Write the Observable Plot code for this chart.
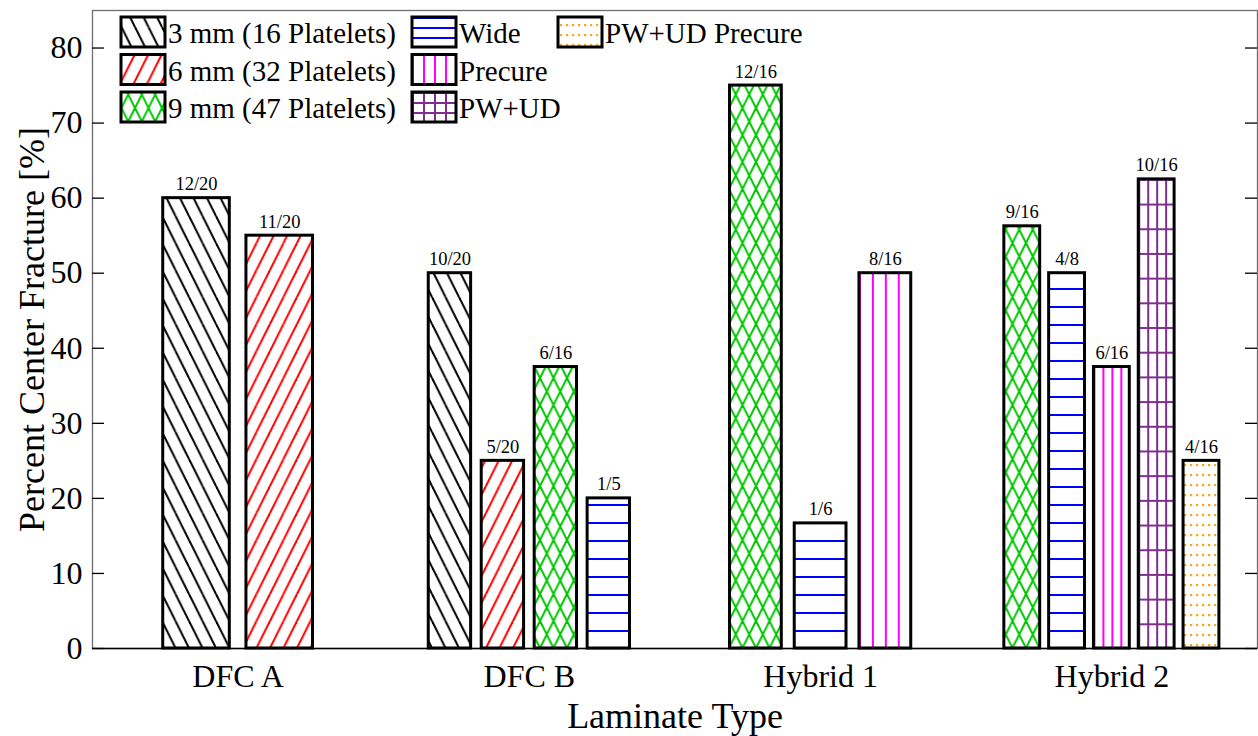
<!DOCTYPE html>
<html>
<head>
<meta charset="utf-8">
<script src="https://cdn.jsdelivr.net/npm/d3@7"></script>
<script src="https://cdn.jsdelivr.net/npm/@observablehq/plot@0.6"></script>
<style>
  body { margin: 0; background: #fff; }
</style>
</head>
<body>
<div id="chart"></div>
<script>
// Laminate types along the x axis
const groups = ["DFC A", "DFC B", "Hybrid 1", "Hybrid 2"];

// Specimen series (legend order)
const seriesNames = [
  "3 mm (16 Platelets)",
  "6 mm (32 Platelets)",
  "9 mm (47 Platelets)",
  "Wide",
  "Precure",
  "PW+UD",
  "PW+UD Precure"
];

// One entry per bar: laminate, series, specimens with a center fracture, specimens tested
const barGroup  = ["DFC A", "DFC A",
                   "DFC B", "DFC B", "DFC B", "DFC B",
                   "Hybrid 1", "Hybrid 1", "Hybrid 1",
                   "Hybrid 2", "Hybrid 2", "Hybrid 2", "Hybrid 2", "Hybrid 2"];
const barSeries = ["3 mm (16 Platelets)", "6 mm (32 Platelets)",
                   "3 mm (16 Platelets)", "6 mm (32 Platelets)", "9 mm (47 Platelets)", "Wide",
                   "9 mm (47 Platelets)", "Wide", "Precure",
                   "9 mm (47 Platelets)", "Wide", "Precure", "PW+UD", "PW+UD Precure"];
const fractured = [12, 11, 10, 5, 6, 1, 12, 1, 8, 9, 4, 6, 10, 4];
const tested    = [20, 20, 20, 20, 16, 5, 16, 6, 16, 16, 8, 16, 16, 16];

const yTicks = [0, 10, 20, 30, 40, 50, 60, 70, 80];

// Fill pattern for each series
const patternIds = ["pat-3mm", "pat-6mm", "pat-9mm", "pat-wide", "pat-precure", "pat-pwud", "pat-pwud-precure"];
const legendPatternIds = ["pat-3mm", "pat-6mm", "pat-9mm", "pat-wide-key", "pat-precure", "pat-pwud-key", "pat-pwud-precure"];
const patternOf = name => patternIds[seriesNames.indexOf(name)];

// Bar table with grouped-bar placement (group width grows with bar count)
const bars = barGroup.map((g, i) => ({
  group: g,
  series: barSeries[i],
  num: fractured[i],
  den: tested[i],
  value: fractured[i] / tested[i] * 100
}));
groups.forEach((g, gi) => {
  const members = bars.filter(b => b.group === g);
  const n = members.length;
  const groupWidth = Math.min(0.8, n / (n + 1.5));
  const pitch = groupWidth / n;
  members.forEach((b, k) => {
    const c = gi + 1 + (k - (n - 1) / 2) * pitch;
    b.xm = c;
    b.x1 = c - 0.4 * pitch;
    b.x2 = c + 0.4 * pitch;
  });
});

const W = 1258, H = 736;
const mL = 92, mR = 1, mT = 10, mB = 88;
const plotW = W - mL - mR;
const tickLen = 12;
const serif = "'Liberation Serif', 'Times New Roman', Times, serif";

const chart = Plot.plot({
  width: W,
  height: H,
  marginLeft: mL,
  marginRight: mR,
  marginTop: mT,
  marginBottom: mB,
  style: { fontFamily: serif, background: "#fff", color: "#000" },
  x: { domain: [0.5, 4.5] },
  y: { domain: [0, 85] },
  color: { type: "identity" },
  marks: [
    Plot.frame({ stroke: "#6e6e6e", strokeWidth: 1.3 }),
    Plot.rect(bars, {
      x1: "x1", x2: "x2", y1: 0, y2: "value",
      fill: d => `url(#${patternOf(d.series)})`,
      stroke: "#000", strokeWidth: 3
    }),
    Plot.ruleY([0], { stroke: "#000", strokeWidth: 1.3 }),
    Plot.tickY(yTicks, { y: d => d, insetRight: plotW - tickLen, stroke: "#000", strokeWidth: 1.3 }),
    Plot.tickY(yTicks, { y: d => d, insetLeft: plotW - tickLen, stroke: "#000", strokeWidth: 1.3 }),
    Plot.axisY({ ticks: yTicks, tickSize: 0, tickPadding: 10, fontSize: 32, label: null }),
    Plot.axisX({ ticks: [1, 2, 3, 4], tickFormat: i => groups[i - 1], tickSize: 0, tickPadding: 16, fontSize: 32, label: null }),
    Plot.text(bars, {
      x: "xm", y: "value", text: d => `${d.num}/${d.den}`,
      dy: -8, lineAnchor: "bottom", fontSize: 18.5
    }),
    Plot.text(["Laminate Type"], { frameAnchor: "bottom", lineAnchor: "middle", dy: 68, fontSize: 36 }),
    Plot.text(["Percent Center Fracture [%]"], {
      frameAnchor: "left", textAnchor: "middle", lineAnchor: "middle",
      rotate: -90, dx: -60, fontSize: 36
    })
  ]
});

document.getElementById("chart").appendChild(chart);

// ---- Hatch patterns ----
const svg = d3.select(chart);
const defs = svg.insert("defs", ":first-child");

function diagPattern(id, color, back, fwd) {
  const w = 13.5, h = 27;
  const p = defs.append("pattern").attr("id", id)
    .attr("patternUnits", "userSpaceOnUse").attr("width", w).attr("height", h);
  p.append("rect").attr("width", w).attr("height", h).attr("fill", "#fff");
  const seg = (x1, y1, x2, y2) => p.append("line")
    .attr("x1", x1).attr("y1", y1).attr("x2", x2).attr("y2", y2)
    .attr("stroke", color).attr("stroke-width", 2);
  if (back) { // "\" lines
    seg(0, 0, w, h); seg(-w, 0, 0, h); seg(0, -h, w, 0); seg(w, 0, 2 * w, h);
  }
  if (fwd) { // "/" lines
    seg(0, h, w, 0); seg(w, h, 2 * w, 0); seg(-w, h, 0, 0); seg(0, 2 * h, w, h);
  }
}
diagPattern("pat-3mm", "#000", true, false);
diagPattern("pat-6mm", "#ff0000", false, true);
diagPattern("pat-9mm", "#00c800", true, true);

// Horizontal lines
function rowsPattern(id, units, h) {
  const p = defs.append("pattern").attr("id", id)
    .attr("patternUnits", units).attr("width", units === "userSpaceOnUse" ? 20 : 1).attr("height", h);
  p.append("rect").attr("width", 2000).attr("height", 2000).attr("fill", "#fff");
  p.append("line").attr("x1", -1).attr("x2", 2000).attr("y1", 0).attr("y2", 0)
    .attr("stroke", "#0000ff").attr("stroke-width", 4);
}
rowsPattern("pat-wide", "userSpaceOnUse", 18);
rowsPattern("pat-wide-key", "objectBoundingBox", 1 / 3);

// Vertical lines dividing the bar into quarters
{
  const p = defs.append("pattern").attr("id", "pat-precure")
    .attr("patternUnits", "objectBoundingBox").attr("width", 0.25).attr("height", 1);
  p.append("rect").attr("width", 2000).attr("height", 2000).attr("fill", "#fff");
  p.append("line").attr("x1", 0).attr("x2", 0).attr("y1", 0).attr("y2", 2000)
    .attr("stroke", "#ff00ff").attr("stroke-width", 4);
}
// Grid: quarter columns and evenly spaced rows
function gridPattern(id, rowFrac) {
  const p = defs.append("pattern").attr("id", id)
    .attr("patternUnits", "objectBoundingBox").attr("width", 0.25).attr("height", rowFrac);
  p.append("rect").attr("width", 2000).attr("height", 2000).attr("fill", "#fff");
  p.append("line").attr("x1", 0).attr("x2", 0).attr("y1", 0).attr("y2", 2000)
    .attr("stroke", "#7e2f8e").attr("stroke-width", 4);
  p.append("line").attr("x1", 0).attr("x2", 2000).attr("y1", 0).attr("y2", 0)
    .attr("stroke", "#7e2f8e").attr("stroke-width", 4);
}
gridPattern("pat-pwud", 1 / 19);
gridPattern("pat-pwud-key", 1 / 3);

// Dots
{
  const p = defs.append("pattern").attr("id", "pat-pwud-precure")
    .attr("patternUnits", "userSpaceOnUse").attr("width", 6).attr("height", 10);
  p.append("rect").attr("width", 6).attr("height", 10).attr("fill", "#fff");
  p.append("rect").attr("x", 2).attr("y", 4).attr("width", 2.2).attr("height", 2.2)
    .attr("fill", "#f5a623");
}

// ---- Legend (inside the plot area, three columns) ----
const legendCols = [121, 412, 558];
const legendRows = [17, 54.5, 92];
const patchW = 44, patchH = 30;
const legend = svg.append("g")
  .attr("font-family", serif)
  .attr("font-size", 29)
  .attr("text-anchor", "start");
seriesNames.forEach((name, k) => {
  const x = legendCols[Math.floor(k / 3)];
  const y = legendRows[k % 3];
  legend.append("rect")
    .attr("x", x).attr("y", y).attr("width", patchW).attr("height", patchH)
    .attr("fill", `url(#${legendPatternIds[k]})`)
    .attr("stroke", "#000").attr("stroke-width", 3);
  legend.append("text")
    .attr("x", x + patchW + 3).attr("y", y + patchH / 2 + 1)
    .attr("dy", "0.35em")
    .attr("fill", "#000")
    .text(name);
});
</script>
</body>
</html>
